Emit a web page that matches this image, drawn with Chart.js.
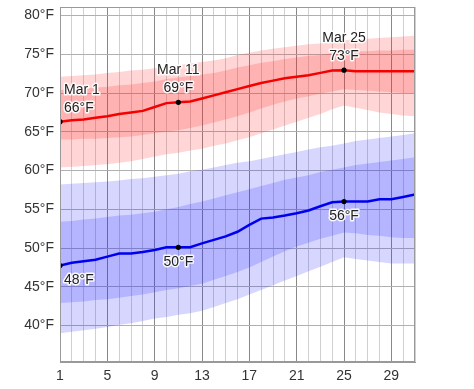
<!DOCTYPE html>
<html>
<head>
<meta charset="utf-8">
<script src="https://cdn.jsdelivr.net/npm/chart.js@4/dist/chart.umd.min.js"></script>
<style>
  html, body { margin: 0; padding: 0; background: #fff; }
  canvas { display: block; }
</style>
</head>
<body>
<canvas id="chart" width="474" height="389"></canvas>
<script>
// Days of March
var days = [1,2,3,4,5,6,7,8,9,10,11,12,13,14,15,16,17,18,19,20,21,22,23,24,25,26,27,28,29,30,31];
var xTickLabels = [1,5,9,13,17,21,25,29];
var yTicks = [40,45,50,55,60,65,70,75,80];
var markDays = [1, 11, 25];

// Average daily high (°F) and its 25-75 / 10-90 percentile bands
var highAvg = [66.3,66.5,66.6,66.8,67.0,67.3,67.5,67.7,68.2,68.7,68.8,68.9,69.3,69.7,70.1,70.5,70.9,71.3,71.6,71.9,72.1,72.3,72.6,72.9,72.95,72.8,72.8,72.8,72.8,72.8,72.8];
var highP90 = [72.1,72.2,72.3,72.4,72.6,72.7,72.9,73.0,73.2,73.4,73.6,73.8,74.0,74.2,74.5,74.9,75.2,75.5,75.7,75.9,76.1,76.3,76.4,76.6,76.8,76.9,77.0,77.1,77.2,77.3,77.4];
var highP75 = [70.4,70.5,70.6,70.7,70.8,71.0,71.1,71.3,71.5,71.8,72.0,72.2,72.4,72.6,72.9,73.3,73.6,73.9,74.1,74.4,74.6,74.8,74.9,75.1,75.3,75.4,75.4,75.5,75.5,75.6,75.6];
var highP25 = [64.0,64.0,64.1,64.1,64.2,64.3,64.4,64.6,64.8,65.0,65.2,65.5,65.8,66.2,66.6,67.0,67.5,68.0,68.5,68.9,69.3,69.6,69.9,70.2,70.5,70.4,70.3,70.2,70.1,70.0,70.0];
var highP10 = [60.4,60.5,60.6,60.7,60.8,61.0,61.2,61.5,61.8,62.1,62.3,62.6,62.8,63.2,63.5,63.9,64.3,64.8,65.3,65.8,66.3,66.8,67.3,67.9,68.4,68.1,67.8,67.5,67.3,67.1,67.0];

// Average daily low (°F) and its bands
var lowAvg = [47.75,48.1,48.3,48.5,48.9,49.3,49.3,49.5,49.75,50.1,50.1,50.1,50.6,51.05,51.5,52.1,53.0,53.8,53.95,54.2,54.5,54.85,55.4,55.9,56.0,56.0,56.0,56.3,56.3,56.6,56.9];
var lowP90 = [58.2,58.3,58.4,58.5,58.6,58.7,58.9,59.0,59.2,59.4,59.6,59.9,60.1,60.4,60.7,61.0,61.2,61.5,61.8,62.1,62.4,62.7,63.0,63.2,63.5,63.8,64.0,64.2,64.4,64.6,64.8];
var lowP75 = [53.4,53.5,53.7,53.8,54.0,54.2,54.3,54.5,54.7,55.0,55.3,55.7,56.0,56.4,56.8,57.2,57.6,58.0,58.4,58.8,59.1,59.4,59.8,60.1,60.4,60.7,60.9,61.1,61.3,61.5,61.7];
var lowP25 = [42.9,43.0,43.1,43.3,43.4,43.6,43.8,44.0,44.3,44.6,44.8,45.1,45.4,45.9,46.4,46.9,47.5,48.2,48.9,49.6,50.2,50.7,51.2,51.6,52.0,51.9,51.7,51.6,51.4,51.3,51.3];
var lowP10 = [39.0,39.2,39.4,39.6,39.8,40.1,40.3,40.6,40.9,41.1,41.4,41.6,41.9,42.4,42.9,43.4,44.0,44.6,45.2,45.8,46.4,47.0,47.6,48.2,48.8,48.6,48.4,48.2,48.0,48.0,48.0];

function pts(arr) {
  return days.map(function(d, i) { return { x: d, y: arr[i] }; });
}

function band(arr, target, color) {
  return { data: pts(arr), borderWidth: 0, pointRadius: 0, backgroundColor: color,
           fill: target === null ? false : { target: target }, order: 5 };
}

var RED_BAND = 'rgba(255,30,30,0.19)';
var BLUE_BAND = 'rgba(30,30,255,0.185)';

function markRadius(ctx) {
  return markDays.indexOf(ctx.raw.x) >= 0 ? 2.6 : 0;
}

// Draw the frame + the date / temperature labels
var labelPlugin = {
  id: 'labels',
  afterDatasetsDraw: function(chart) {
    var ctx = chart.ctx, xs = chart.scales.x, ys = chart.scales.y, a = chart.chartArea;
    ctx.save();
    ctx.strokeStyle = '#999';
    ctx.lineWidth = 1;
    ctx.strokeRect(a.left + 0.5, a.top + 0.5, a.right - a.left - 1, a.bottom - a.top - 1);

    ctx.font = '14px "Liberation Sans", Arial, sans-serif';
    ctx.textBaseline = 'middle';
    ctx.lineJoin = 'round';
    function txt(s, x, y, align) {
      ctx.textAlign = align;
      ctx.strokeStyle = 'rgba(255,255,255,0.9)';
      ctx.lineWidth = 3;
      ctx.strokeText(s, x, y);
      ctx.fillStyle = '#222';
      ctx.fillText(s, x, y);
    }
    markDays.forEach(function(d) {
      var i = days.indexOf(d);
      var px = xs.getPixelForValue(d);
      var align = i === 0 ? 'left' : 'center';
      var tx = i === 0 ? px + 4 : px;
      var hy = ys.getPixelForValue(highAvg[i]);
      txt('Mar ' + d, tx, hy - 32, align);
      txt(Math.round(highAvg[i]) + '°F', tx, hy - 14, align);
      var ly = ys.getPixelForValue(lowAvg[i]);
      txt(Math.round(lowAvg[i]) + '°F', tx, ly + 15, align);
    });
    ctx.restore();
  }
};

new Chart(document.getElementById('chart'), {
  type: 'line',
  data: {
    datasets: [
      { data: pts(highAvg), borderColor: '#f40000', borderWidth: 2.5, tension: 0,
        pointRadius: markRadius, pointBackgroundColor: '#000', pointBorderWidth: 0, fill: false, order: 0 },
      { data: pts(lowAvg), borderColor: '#0000f0', borderWidth: 2.5, tension: 0,
        pointRadius: markRadius, pointBackgroundColor: '#000', pointBorderWidth: 0, fill: false, order: 0 },
      band(highP90, 3, RED_BAND),
      band(highP10, null, RED_BAND),
      band(highP75, 5, RED_BAND),
      band(highP25, null, RED_BAND),
      band(lowP90, 7, BLUE_BAND),
      band(lowP10, null, BLUE_BAND),
      band(lowP75, 9, BLUE_BAND),
      band(lowP25, null, BLUE_BAND)
    ]
  },
  options: {
    responsive: false,
    animation: false,
    events: [],
    layout: { padding: { left: 0, right: 59, top: 7, bottom: 0 } },
    plugins: { legend: { display: false }, tooltip: { enabled: false } },
    scales: {
      x: {
        type: 'linear', min: 1, max: 31,
        afterBuildTicks: function(s) { s.ticks = days.map(function(v) { return { value: v }; }); },
        afterFit: function(s) { s.height = 27; s.paddingLeft = 0; s.paddingRight = 0; },
        ticks: {
          autoSkip: false, maxRotation: 0, padding: 6, color: '#333',
          font: { family: '"Liberation Sans", Arial, sans-serif', size: 14 },
          callback: function(v) { return xTickLabels.indexOf(v) >= 0 ? String(v) : ''; }
        },
        grid: {
          drawTicks: false,
          color: function(c) { return xTickLabels.indexOf(c.tick.value) >= 0 ? '#888' : '#d0d0d0'; }
        },
        border: { color: '#999' }
      },
      y: {
        min: 35.3, max: 81.1,
        afterBuildTicks: function(s) { s.ticks = yTicks.map(function(v) { return { value: v }; }); },
        afterFit: function(s) { s.width = 60; s.paddingTop = 0; s.paddingBottom = 0; },
        ticks: {
          padding: 6, color: '#333',
          font: { family: '"Liberation Sans", Arial, sans-serif', size: 14 },
          callback: function(v) { return v + '°F'; }
        },
        grid: { drawTicks: false, color: '#b0b0b0' },
        border: { color: '#999' }
      }
    }
  },
  plugins: [labelPlugin]
});
</script>
</body>
</html>
